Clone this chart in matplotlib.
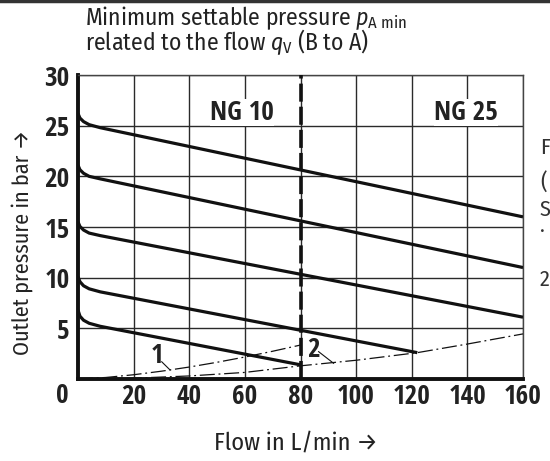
import matplotlib
matplotlib.use("Agg")
import matplotlib.pyplot as plt
from matplotlib.lines import Line2D

LIGHT = ['Fira Sans Condensed', 'DejaVu Sans']
BOLD = ['Open Sans Condensed', 'DejaVu Sans']
plt.rcParams['font.family'] = LIGHT
plt.rcParams['font.weight'] = 'normal'
plt.rcParams['mathtext.fontset'] = 'custom'
plt.rcParams['mathtext.rm'] = 'Fira Sans Condensed'
plt.rcParams['mathtext.it'] = 'Fira Sans Condensed:italic'

# ---- data ----
x_ticks = [20, 40, 60, 80, 100, 120, 140, 160]
y_ticks = [5, 10, 15, 20, 25, 30]

c1_x = [0, 0.7, 2, 4, 8, 160]
c1_y = [26.2, 25.75, 25.4, 25.1, 24.8, 16.0]
c2_x = [0, 0.7, 2, 4, 8, 160]
c2_y = [21.1, 20.65, 20.3, 20.0, 19.75, 11.0]
c3_x = [0, 0.7, 2, 4, 8, 160]
c3_y = [15.5, 15.05, 14.7, 14.4, 14.15, 6.1]
c4_x = [0, 0.7, 2, 4, 8, 122]
c4_y = [10.1, 9.6, 9.2, 8.9, 8.6, 2.6]
c5_x = [0, 0.7, 2, 4, 8, 80]
c5_y = [6.8, 6.2, 5.8, 5.5, 5.2, 1.4]

l1_x = [0, 10, 20, 30, 40, 50, 60, 70, 80]
l1_y = [0, 0.15, 0.42, 0.77, 1.18, 1.65, 2.17, 2.74, 3.35]
l2_x = [0, 20, 40, 60, 80, 100, 122, 140, 160]
l2_y = [0, 0.08, 0.3, 0.65, 1.3, 1.85, 2.6, 3.45, 4.45]

ng_split = 80
ng_labels = ["NG 10", "NG 25"]
ng_x = [59, 139.5]
ng_y = [26.3, 26.3]

W, H = 550, 461
TS = 19.5  # bold label size
LS = 17    # regular label size
fig = plt.figure(figsize=(5.5, 4.61), dpi=100)
ax = fig.add_axes([78 / W, 1 - 379 / H, (523 - 78) / W, (379 - 75) / H])

ax.set_xlim(0, 160)
ax.set_ylim(0, 30)
ax.set_xticks(x_ticks)
ax.set_yticks(y_ticks)
ax.grid(True, color='#2a2a2a', linewidth=1.0)
ax.set_axisbelow(True)
ax.tick_params(length=0, labelsize=TS, colors='#222222')
ax.tick_params(axis='x', pad=3)
ax.tick_params(axis='y', pad=6)
for lab in ax.get_xticklabels() + ax.get_yticklabels():
    lab.set_fontweight('bold')
    lab.set_family(BOLD)

for s in ['top', 'right']:
    ax.spines[s].set_linewidth(1.0)
    ax.spines[s].set_color('#444444')
for s in ['left', 'bottom']:
    ax.spines[s].set_linewidth(2.8)
    ax.spines[s].set_color('#111111')

for cx, cy in [(c1_x, c1_y), (c2_x, c2_y), (c3_x, c3_y), (c4_x, c4_y), (c5_x, c5_y)]:
    ax.plot(cx, cy, color='#111111', linewidth=2.3, solid_capstyle='butt', zorder=3)

ax.plot(l1_x, l1_y, color='#111111', linewidth=0.9, linestyle=(0, (12, 3, 1.5, 3)), zorder=3)
ax.plot(l2_x, l2_y, color='#111111', linewidth=0.9, linestyle=(0, (12, 3, 1.5, 3)), zorder=3)

ax.axvline(ng_split, color='#111111', linewidth=2.6, linestyle=(0, (5, 1.4)), zorder=4)

for t, x, y in zip(ng_labels, ng_x, ng_y):
    ax.text(x, y, t, ha='center', va='center', fontsize=TS, fontweight='bold', family=BOLD,
            color='#222222', bbox=dict(fc='white', ec='none', pad=0.2), zorder=5)

# curve labels with leaders
ax.text(28.3, 2.3, "1", ha='center', va='center', fontsize=TS, fontweight='bold',
        family=BOLD, color='#222222')
ax.plot([30.1, 33.1], [1.7, 0.89], color='#111111', linewidth=0.8)
ax.text(84.5, 2.9, "2", ha='center', va='center', fontsize=TS, fontweight='bold',
        family=BOLD, color='#222222')
ax.plot([86.5, 91.9], [2.7, 1.55], color='#111111', linewidth=0.8)

# origin label
fig.text(62 / W, 1 - 395 / H, "0", ha='center', va='center', fontsize=TS,
         fontweight='bold', family=BOLD, color='#222222')

# title
fig.text(85 / W, 1 - 25 / H, r"Minimum settable pressure $p_{\mathrm{A\ min}}$",
         ha='left', va='baseline', fontsize=LS, color='#222222')
fig.text(85 / W, 1 - 50 / H, r"related to the flow $q_{\mathrm{V}}$ (B to A)",
         ha='left', va='baseline', fontsize=LS, color='#222222')

# axis labels
fig.text(22 / W, 1 - 242 / H, "Outlet pressure in bar \u2192", rotation=90,
         ha='center', va='center', fontsize=16, color='#222222')
fig.text(296 / W, 1 - 443 / H, "Flow in L/min \u2192", ha='center', va='center',
         fontsize=17.5, color='#222222')

# partly visible text at the right edge
for t, yy in [("F", 148), ("(", 183), ("S", 210), ("\u00b7", 232), ("2", 280)]:
    fig.text(540 / W, 1 - yy / H, t, ha='left', va='center', fontsize=16, color='#333333')

# top border band
fig.add_artist(Line2D([0, 1], [1 - 1.5 / H, 1 - 1.5 / H], color='#333333', linewidth=2.5,
                      transform=fig.transFigure))

fig.savefig("out.png", dpi=100)
